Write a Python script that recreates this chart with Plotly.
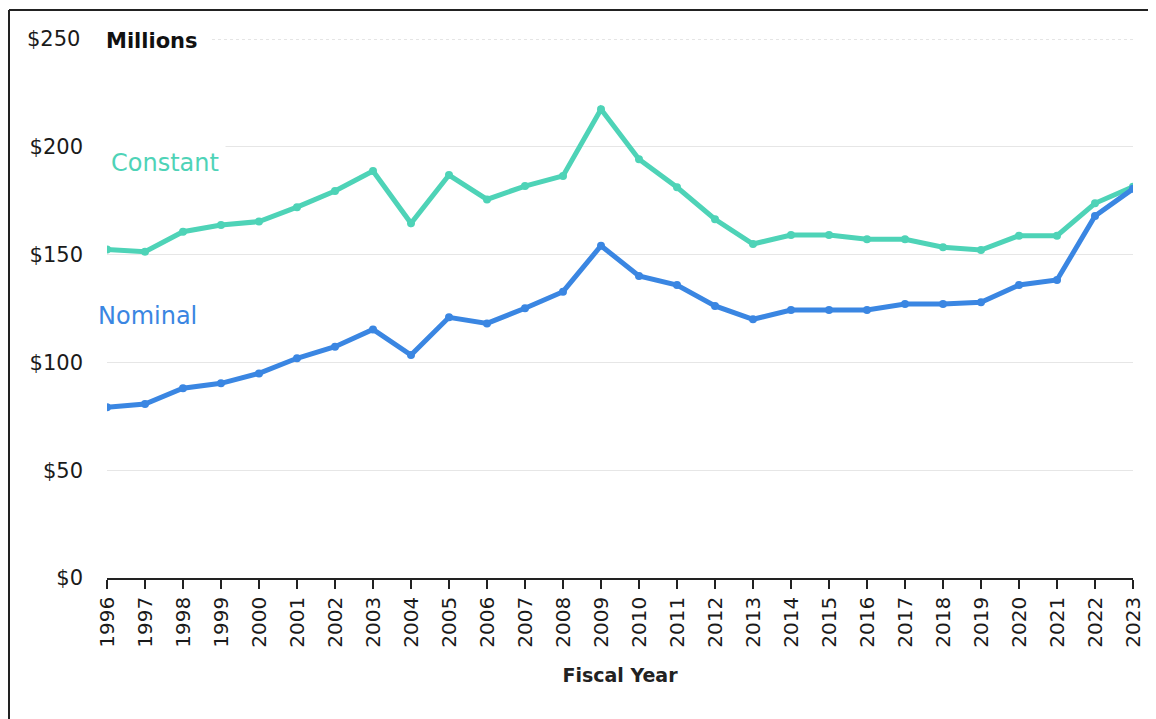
import plotly.graph_objects as go

years = list(range(1996, 2024))
constant = [152.4, 151.3, 160.6, 163.7, 165.3, 172.0, 179.5, 188.8, 164.5, 186.9,
            175.6, 181.8, 186.5, 217.4, 194.2, 181.2, 166.4, 154.9, 159.1, 159.1,
            157.1, 157.1, 153.4, 152.1, 158.8, 158.8, 173.8, 181.5]
nominal = [79.2, 80.7, 88.0, 90.3, 94.9, 101.9, 107.3, 115.3, 103.4, 120.9,
           118.1, 125.1, 132.8, 154.1, 140.1, 135.9, 126.2, 120.0, 124.3, 124.3,
           124.3, 127.1, 127.1, 127.9, 135.9, 138.2, 167.9, 180.5]
y_ticks = [0, 50, 100, 150, 200, 250]
y_tick_labels = ["$0", "$50", "$100", "$150", "$200", "$250"]

TEAL = "#4ED3B7"
BLUE = "#3A86E2"
FONT = "DejaVu Sans"

fig = go.Figure()
fig.add_trace(go.Scatter(x=years, y=constant, mode="lines+markers", name="Constant",
                         line=dict(color=TEAL, width=5),
                         marker=dict(color=TEAL, size=8)))
fig.add_trace(go.Scatter(x=years, y=nominal, mode="lines+markers", name="Nominal",
                         line=dict(color=BLUE, width=5),
                         marker=dict(color=BLUE, size=8)))

OFF = 8  # page body margin
W, H = 1156 - OFF, 719 - OFF
L, T = 107 - OFF, 39 - OFF
R = 23
B = H - (578 - OFF)
pw, ph = W - L - R, H - T - B

def px(x):
    # page x -> paper x
    return (x - OFF - L) / pw

def py(y):
    # page y -> paper y
    return (H - B - (y - OFF)) / ph

fig.update_layout(
    width=W, height=H,
    margin=dict(l=L, r=R, t=T, b=B),
    paper_bgcolor="white", plot_bgcolor="white",
    showlegend=False,
    font=dict(family=FONT, size=20, color="#222222"),
    xaxis=dict(
        range=[1996, 2023], tickmode="array", tickvals=years,
        ticktext=[str(y) for y in years], tickangle=-90,
        showgrid=False, showline=True, linecolor="#222222", linewidth=1.5,
        ticks="outside", ticklen=9, tickwidth=1.5, tickcolor="#222222",
        tickfont=dict(family=FONT, size=20, color="#1a1a1a"),
        title=dict(text="<b>Fiscal Year</b>", font=dict(family=FONT, size=19, color="#222222"),
                   standoff=22),
        zeroline=False,
    ),
    yaxis=dict(
        range=[0, 250], tickmode="array", tickvals=y_ticks[:-1], ticktext=y_tick_labels[:-1],
        showgrid=True, gridcolor="#E6E6E6", gridwidth=1.2,
        showline=False, ticks="", zeroline=False,
        ticklabelstandoff=23,
        tickfont=dict(family=FONT, size=21, color="#1a1a1a"),
    ),
)

# top dotted gridline at $250 and its label
fig.add_shape(type="line", xref="paper", yref="y", x0=px(212), x1=1, y0=250, y1=250,
              line=dict(color="#DDDDDD", width=1.5, dash="dot"), layer="between")
fig.add_annotation(xref="paper", yref="y", x=px(82), y=250, text=y_tick_labels[-1],
                   showarrow=False, xanchor="right", yanchor="middle",
                   font=dict(family=FONT, size=21, color="#1a1a1a"))

# title "Millions"
fig.add_annotation(xref="paper", yref="paper", x=px(104), y=py(41), text="<b>Millions</b>",
                   showarrow=False, xanchor="left", yanchor="middle",
                   font=dict(family=FONT, size=21, color="#111111"))

# series labels
fig.add_annotation(xref="paper", yref="paper", x=px(104), y=py(163), text="Constant",
                   showarrow=False, xanchor="left", yanchor="middle", bgcolor="white",
                   borderpad=6, font=dict(family=FONT, size=24, color=TEAL))
fig.add_annotation(xref="paper", yref="paper", x=px(96), y=py(316), text="Nominal",
                   showarrow=False, xanchor="left", yanchor="middle",
                   font=dict(family=FONT, size=24, color=BLUE))

# outer frame (top and left edges)
fig.add_shape(type="line", xref="paper", yref="paper", x0=px(9), x1=px(1170),
              y0=py(10), y1=py(10), line=dict(color="#222222", width=2))
fig.add_shape(type="line", xref="paper", yref="paper", x0=px(9), x1=px(9),
              y0=py(10), y1=py(730), line=dict(color="#222222", width=2))

fig.write_html("out.html")
